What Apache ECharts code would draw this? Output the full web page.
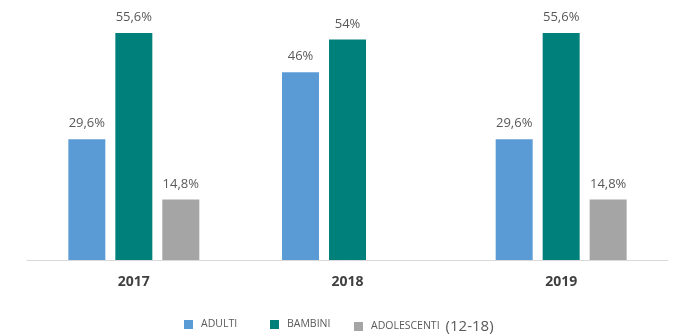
<!DOCTYPE html>
<html>
<head>
<meta charset="utf-8">
<script src="https://cdn.jsdelivr.net/npm/echarts@6/dist/echarts.min.js"></script>
<style>
html,body{margin:0;padding:0;background:#fff;}
#chart{width:685px;height:334px;}
</style>
</head>
<body>
<div id="chart"></div>
<script>
var categories = ['2017', '2018', '2019'];
var adulti = [29.6, 46, 29.6];
var bambini = [55.6, 54, 55.6];
var adolescenti = [14.8, null, 14.8];
var seriesNames = ['ADULTI', 'BAMBINI', 'ADOLESCENTI (12-18)'];
var colors = ['#5B9BD5', '#00807A', '#A5A5A5'];

function fmt(p) {
  var v = p.value;
  if (v === null || v === undefined) return '';
  return String(v).replace('.', ',') + '%';
}

var labelStyle = {
  show: true,
  position: 'top',
  distance: 9,
  color: '#595959',
  fontSize: 13,
  fontFamily: 'Open Sans',
  formatter: fmt
};

function mkSeries(name, data, color) {
  return {
    name: name,
    type: 'bar',
    data: data,
    barWidth: 37,
    barGap: '27%',
    itemStyle: { color: color },
    label: labelStyle
  };
}

function mkLegend(name, left) {
  return {
    data: [name],
    left: left,
    top: 319,
    itemWidth: 9,
    itemHeight: 9,
    itemGap: 0,
    padding: 0,
    icon: 'rect',
    textStyle: {
      color: '#595959',
      fontSize: 10.5,
      fontFamily: 'Open Sans',
      padding: [0, 0, 0, 3],
      rich: {
        big: { fontSize: 15, color: '#595959', fontFamily: 'Open Sans', padding: [0, 0, 0, 6] }
      }
    },
    formatter: function (n) {
      if (n === 'ADOLESCENTI (12-18)') return 'ADOLESCENTI{big|(12-18)}';
      return n;
    }
  };
}

var chart = echarts.init(document.getElementById('chart'), null, { renderer: 'canvas' });
chart.setOption({
  animation: false,
  backgroundColor: '#ffffff',
  grid: { left: 27, right: 17, top: 15, bottom: 74 },
  legend: [
    mkLegend(seriesNames[0], 184),
    mkLegend(seriesNames[1], 270),
    mkLegend(seriesNames[2], 354)
  ],
  xAxis: {
    type: 'category',
    data: categories,
    axisTick: { show: false },
    axisLine: { lineStyle: { color: '#D9D9D9', width: 1 } },
    axisLabel: {
      color: '#404040',
      fontSize: 14,
      fontWeight: 'bold',
      fontFamily: 'Open Sans',
      margin: 15
    }
  },
  yAxis: {
    type: 'value',
    min: 0,
    max: 60,
    show: false,
    splitLine: { show: false }
  },
  series: [
    mkSeries(seriesNames[0], adulti, colors[0]),
    mkSeries(seriesNames[1], bambini, colors[1]),
    mkSeries(seriesNames[2], adolescenti, colors[2])
  ]
});
</script>
</body>
</html>
